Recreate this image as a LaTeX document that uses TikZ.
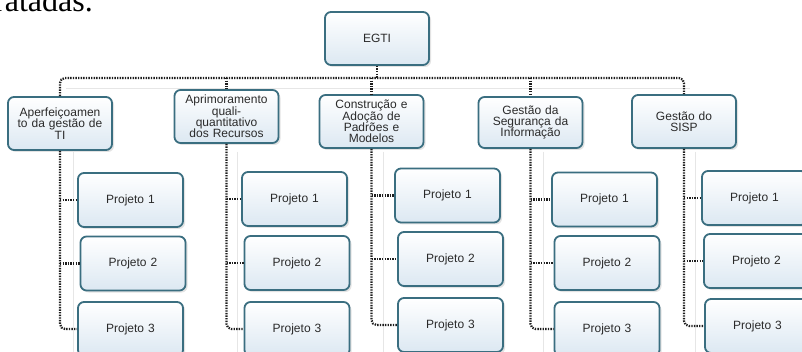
\documentclass[tikz,border=0pt]{standalone}
\usepackage{fontspec}
\setmainfont{Liberation Sans}
\newfontfamily\fragfont{Liberation Serif}
\usetikzlibrary{shadows}
\definecolor{boxline}{HTML}{3A6E80}
\definecolor{boxfill}{HTML}{DCE8F2}
\definecolor{dotcol}{HTML}{1E1E1E}
\definecolor{faint}{HTML}{E6E6E6}
\definecolor{txt}{HTML}{2A2A2A}
\tikzset{
  box/.style={draw=boxline, line width=1.8pt, rounded corners=6pt,
    top color=white, bottom color=boxfill,
    drop shadow={opacity=0.22, shadow xshift=2pt, shadow yshift=-2pt, fill=gray},
    align=center, inner sep=2pt, text=txt,
    font=\fontsize{12}{11.4}\selectfont,
    minimum width=104pt, minimum height=53pt, text width=100pt},
  projbox/.style={box, minimum width=105pt, minimum height=54pt},
  conn/.style={draw=dotcol, line width=2.2pt, dash pattern=on 1.4pt off 1.2pt, rounded corners=5pt},
  faintline/.style={draw=faint, line width=0.6pt}
}
\begin{document}
\begin{tikzpicture}[x=1pt, y=-1pt]
\useasboundingbox (0,0) rectangle (802,352);
\clip (0,0) rectangle (802,352);
\fill[white] (0,0) rectangle (802,352);

% partial text from the page above
\node[anchor=base east, inner sep=0pt, font=\fragfont\fontsize{32}{32}\selectfont] (frag) at (93,12) {tratadas.};

% faint background lines
\draw[faintline] (66,88) -- (690,88);
\foreach \x in {73,237,383,543,695}{
  \draw[faintline] (\x,152) -- (\x,352);
}

% top node
\node[box] (egti) at (377,38.5) {EGTI};

% second level
\node[box] (b1) at (60,123.5) {Aperfeiçoamen\\to da gestão de\\TI};
\node[box] (b2) at (226.5,116.5) {Aprimoramento\\quali-\\quantitativo\\dos Recursos};
\node[box] (b3) at (371.5,121.5) {Construção e\\Adoção de\\Padrões e\\Modelos};
\node[box, minimum height=51pt] (b4) at (530.5,122.5) {Gestão da\\Segurança da\\Informação};
\node[box] (b5) at (684,121.5) {Gestão do\\SISP};

% projects
\node[projbox] (p11) at (130.5,200) {Projeto 1};
\node[projbox] (p12) at (133,263.5) {Projeto 2};
\node[projbox] (p13) at (130.5,329) {Projeto 3};

\node[projbox] (p21) at (294.5,199) {Projeto 1};
\node[projbox] (p22) at (297,263) {Projeto 2};
\node[projbox] (p23) at (297,329) {Projeto 3};

\node[projbox] (p31) at (447.5,195.5) {Projeto 1};
\node[projbox] (p32) at (450.5,259) {Projeto 2};
\node[projbox] (p33) at (450.5,325) {Projeto 3};

\node[projbox] (p41) at (604.5,199.5) {Projeto 1};
\node[projbox] (p42) at (607,263) {Projeto 2};
\node[projbox] (p43) at (607,329) {Projeto 3};

\node[projbox] (p51) at (754.5,198) {Projeto 1};
\node[projbox] (p52) at (756.5,261) {Projeto 2};
\node[projbox] (p53) at (757.5,326) {Projeto 3};

% top connectors
\coordinate (top) at (377,78);
\draw[conn] (b1.north) -- (b1.north |- top) -- (b5.north |- top) -- (b5.north);
\draw[conn] (egti.south) -- (egti.south |- top);
\draw[conn] (b2.north |- top) -- (b2.north);
\draw[conn] (b3.north |- top) -- (b3.north);
\draw[conn] (b4.north |- top) -- (b4.north);

% column connectors
\foreach \c in {1,...,5}{
  \draw[conn] (b\c.south) -- (b\c.south |- p\c3.west) -- (p\c3.west);
  \draw[conn] (b\c.south |- p\c1.west) -- (p\c1.west);
  \draw[conn] (b\c.south |- p\c2.west) -- (p\c2.west);
}
\end{tikzpicture}
\end{document}
